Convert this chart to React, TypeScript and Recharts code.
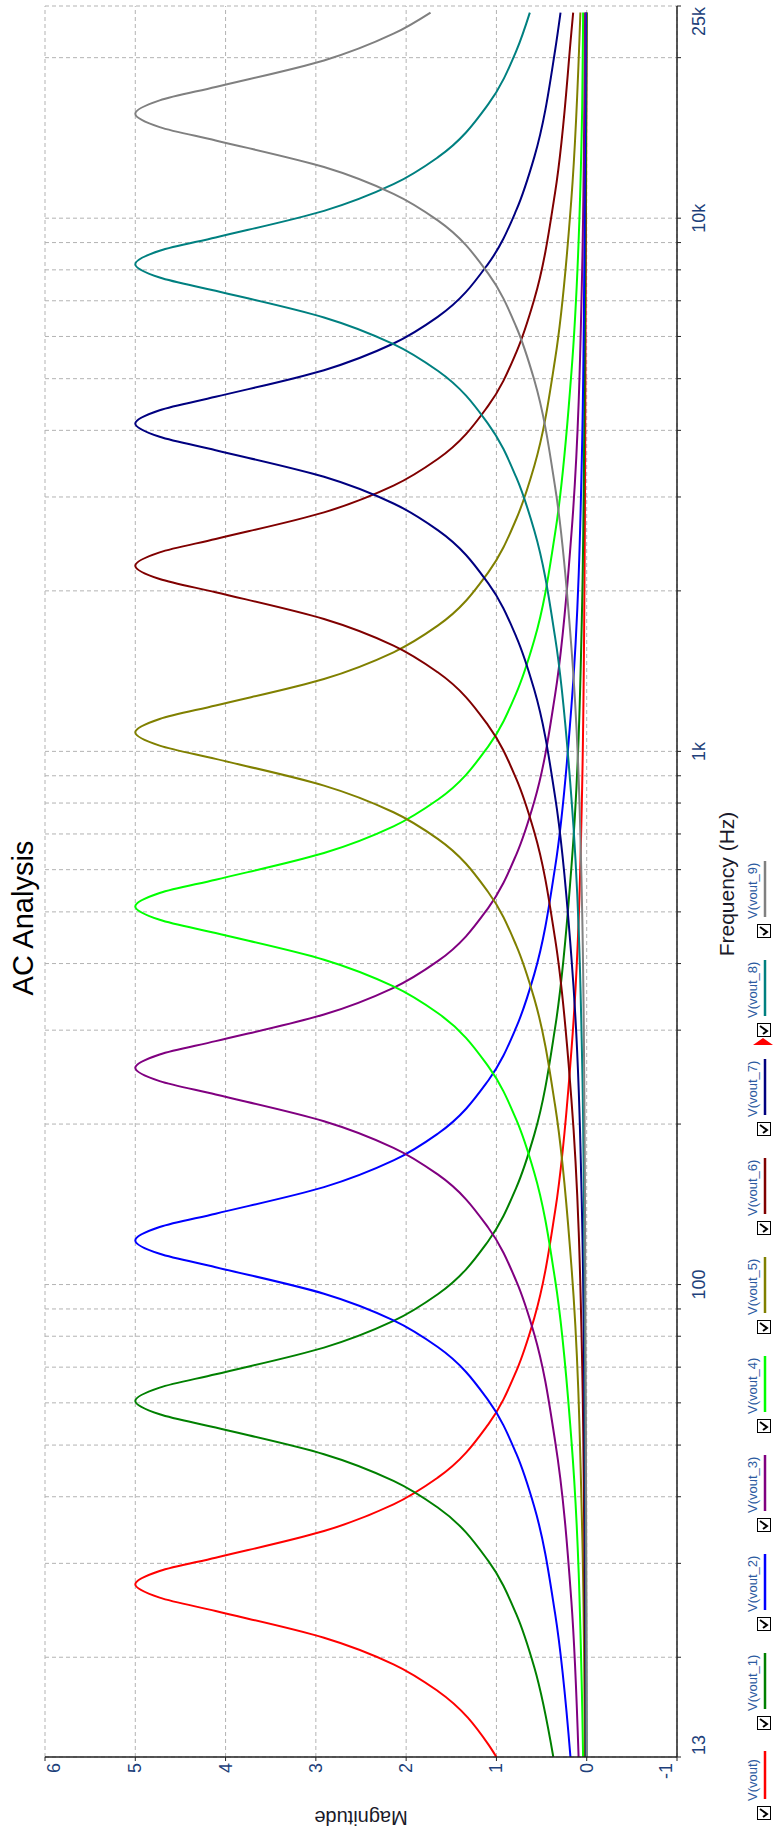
import React from 'react';
import { LineChart, Line, XAxis, YAxis, CartesianGrid } from 'recharts';

const freqVout = [13, 13.73, 17.29, 19.4, 21.76, 24.42, 25.87, 27.4, 29.02, 30.74, 34.49, 38.7, 43.43, 54.67, 68.83, 86.65, 137.3, 274, 866, 2740, 24300];
const magVout = [1.0, 1.09, 1.65, 2.14, 2.91, 4.11, 4.73, 5.0, 4.73, 4.11, 2.91, 2.14, 1.65, 1.09, 0.78, 0.58, 0.35, 0.17, 0.05, 0.02, 0.0];

const freqVout1 = [13, 19.13, 24.09, 30.32, 38.18, 42.83, 48.06, 53.92, 57.12, 60.5, 64.09, 67.88, 76.16, 85.46, 95.89, 120.7, 152, 191.3, 303.2, 605, 1913, 6050, 24300];
const magVout1 = [0.37, 0.58, 0.78, 1.09, 1.65, 2.14, 2.91, 4.11, 4.73, 5.0, 4.73, 4.11, 2.91, 2.14, 1.65, 1.09, 0.78, 0.58, 0.35, 0.17, 0.05, 0.02, 0.0];

const freqVout2 = [13, 24.14, 38.26, 48.17, 60.65, 76.35, 85.66, 96.11, 107.8, 114.2, 121, 128.2, 135.8, 152.3, 170.9, 191.8, 241.4, 303.9, 382.6, 606.4, 1210, 3826, 12100, 24300];
const magVout2 = [0.18, 0.35, 0.58, 0.78, 1.09, 1.65, 2.14, 2.91, 4.11, 4.73, 5.0, 4.73, 4.11, 2.91, 2.14, 1.65, 1.09, 0.78, 0.58, 0.35, 0.17, 0.05, 0.02, 0.01];

const freqVout3 = [13, 25.5, 50.87, 80.63, 101.5, 127.8, 160.9, 180.5, 202.5, 227.3, 240.7, 255, 270.1, 286.1, 321, 360.2, 404.1, 508.8, 640.5, 806.4, 1278, 2550, 8063, 24300];
const magVout3 = [0.09, 0.17, 0.35, 0.58, 0.78, 1.09, 1.65, 2.14, 2.91, 4.11, 4.73, 5.0, 4.73, 4.11, 2.91, 2.14, 1.65, 1.09, 0.78, 0.58, 0.35, 0.17, 0.05, 0.02];

const freqVout4 = [13, 16.19, 51.2, 102.1, 161.9, 203.8, 256.6, 323.1, 362.4, 406.7, 456.3, 483.4, 512, 542.4, 574.5, 644.6, 723.2, 811.5, 1022, 1286, 1619, 2566, 5120, 16190, 24300];
const magVout4 = [0.04, 0.05, 0.17, 0.35, 0.58, 0.78, 1.09, 1.65, 2.14, 2.91, 4.11, 4.73, 5.0, 4.73, 4.11, 2.91, 2.14, 1.65, 1.09, 0.78, 0.58, 0.35, 0.17, 0.05, 0.04];

const freqVout5 = [13, 34.34, 108.6, 216.7, 343.4, 432.3, 544.3, 685.3, 768.8, 862.6, 968, 1025, 1086, 1150, 1219, 1367, 1534, 1721, 2167, 2728, 3434, 5443, 10860, 24300];
const magVout5 = [0.02, 0.05, 0.17, 0.35, 0.58, 0.78, 1.09, 1.65, 2.14, 2.91, 4.11, 4.73, 5.0, 4.73, 4.11, 2.91, 2.14, 1.65, 1.09, 0.78, 0.58, 0.35, 0.17, 0.07];

const freqVout6 = [13, 22.3, 70.51, 223, 444.9, 705.2, 887.8, 1118, 1407, 1579, 1771, 1988, 2105, 2230, 2362, 2502, 2807, 3150, 3534, 4450, 5602, 7052, 11180, 22300, 24300];
const magVout6 = [0.01, 0.02, 0.05, 0.17, 0.35, 0.58, 0.78, 1.09, 1.65, 2.14, 2.91, 4.11, 4.73, 5.0, 4.73, 4.11, 2.91, 2.14, 1.65, 1.09, 0.78, 0.58, 0.35, 0.17, 0.15];

const freqVout7 = [13, 41.2, 130.3, 412, 821.9, 1303, 1640, 2065, 2600, 2917, 3273, 3672, 3890, 4120, 4364, 4623, 5187, 5820, 6530, 8221, 10350, 13030, 20650, 24300];
const magVout7 = [0.01, 0.02, 0.05, 0.17, 0.35, 0.58, 0.78, 1.09, 1.65, 2.14, 2.91, 4.11, 4.73, 5.0, 4.73, 4.11, 2.91, 2.14, 1.65, 1.09, 0.78, 0.58, 0.35, 0.29];

const freqVout8 = [13, 82, 259.3, 820, 1636, 2593, 3264, 4110, 5174, 5805, 6513, 7309, 7742, 8200, 8686, 9200, 10320, 11580, 13000, 16360, 20600, 24300];
const magVout8 = [0.0, 0.02, 0.05, 0.17, 0.35, 0.58, 0.78, 1.09, 1.65, 2.14, 2.91, 4.11, 4.73, 5.0, 4.73, 4.11, 2.91, 2.14, 1.65, 1.09, 0.78, 0.63];

const freqVout9 = [13, 157, 496.4, 1570, 3132, 4965, 6250, 7869, 9907, 11110, 12470, 13990, 14820, 15700, 16630, 17620, 19760, 22180, 24300];
const magVout9 = [0.0, 0.02, 0.05, 0.17, 0.35, 0.58, 0.78, 1.09, 1.65, 2.14, 2.91, 4.11, 4.73, 5.0, 4.73, 4.11, 2.91, 2.14, 1.73];

const seriesNames = ['V(vout)', 'V(vout_1)', 'V(vout_2)', 'V(vout_3)', 'V(vout_4)', 'V(vout_5)', 'V(vout_6)', 'V(vout_7)', 'V(vout_8)', 'V(vout_9)'];
const seriesColors = ['#FF0000', '#008000', '#0000FF', '#800080', '#00FF00', '#808000', '#800000', '#000080', '#008080', '#808080'];

// axis ticks
const freqTicks = [13, 20, 30, 40, 50, 60, 70, 80, 90, 100, 200, 300, 400, 500, 600, 700, 800, 900, 1000, 2000, 3000, 4000, 5000, 6000, 7000, 8000, 9000, 10000, 20000, 25000];
const freqLabels: Record<number, string> = { 13: '13', 100: '100', 1000: '1k', 10000: '10k', 25000: '25k' };
const magTicks = [-1, 0, 1, 2, 3, 4, 5, 6];

const zip = (f: number[], m: number[]) => f.map((v, i) => ({ f: v, m: m[i] }));

const seriesData = [
    zip(freqVout, magVout),
    zip(freqVout1, magVout1),
    zip(freqVout2, magVout2),
    zip(freqVout3, magVout3),
    zip(freqVout4, magVout4),
    zip(freqVout5, magVout5),
    zip(freqVout6, magVout6),
    zip(freqVout7, magVout7),
    zip(freqVout8, magVout8),
    zip(freqVout9, magVout9),
];

const FONT = '"Liberation Sans", Arial, sans-serif';
const TICK_COLOR = '#1d3f7a';
const W = 1836;
const H = 777;

const FreqTick = (props: any) => {
    const { x, y, payload } = props;
    const label = freqLabels[payload.value];
    if (!label) return <g />;
    let anchor: 'start' | 'middle' | 'end' = 'middle';
    let tx = x;
    if (payload.value === 13) { anchor = 'start'; tx = x + 2; }
    if (payload.value === 25000) { anchor = 'end'; tx = x - 1; }
    return (
        <text x={tx} y={y + 22} textAnchor={anchor} fontSize={18} fill={TICK_COLOR} fontFamily={FONT}>
            {label}
        </text>
    );
};

const MagTick = (props: any) => {
    const { x, y, payload } = props;
    const v = payload.value;
    const dy = v === 6 ? 15 : v === -1 ? -5 : 6;
    return (
        <text x={x} y={y + dy} textAnchor="end" fontSize={18} fill={TICK_COLOR} fontFamily={FONT}>
            {v}
        </text>
    );
};

const LegendRow = () => (
    <g>
        {seriesNames.map((name, i) => {
            const bx = i === 0 ? 16 : 106 + (i - 1) * 99;
            const len = i === 0 ? 48 : 56;
            return (
                <g key={name}>
                    {i === 8 && (
                        <polygon points={`${bx - 8},753 ${bx - 8},773 ${bx - 1},763`} fill="#FF0000" />
                    )}
                    <rect x={bx + 0.5} y={757.5} width={13} height={13} fill="#fff" stroke="#000" strokeWidth={1} />
                    <polyline
                        points={`${bx + 3},${763} ${bx + 6},${767} ${bx + 11},${760}`}
                        fill="none"
                        stroke="#000"
                        strokeWidth={2}
                    />
                    <text x={bx + 19} y={757} fontSize={13} fill="#2c5aa0" fontFamily={FONT}>{name}</text>
                    <line x1={bx + 21} x2={bx + 21 + len} y1={765} y2={765} stroke={seriesColors[i]} strokeWidth={2.5} />
                </g>
            );
        })}
    </g>
);

const AcChart = () => (
    <div style={{ position: 'relative', width: W, height: H, background: '#fff' }}>
        <LineChart width={W} height={H} margin={{ top: 45, right: 6, bottom: 0, left: 0 }}>
            <CartesianGrid stroke="#b3b3b3" strokeDasharray="4 3" />
            <XAxis
                type="number"
                dataKey="f"
                scale="log"
                domain={[13, 25000]}
                allowDataOverflow
                ticks={freqTicks}
                interval={0}
                height={100}
                tickSize={4}
                tickMargin={2}
                axisLine={{ stroke: '#222', strokeWidth: 1.5 }}
                tickLine={{ stroke: '#222' }}
                tick={<FreqTick />}
            />
            <YAxis
                type="number"
                dataKey="m"
                domain={[-1, 6]}
                allowDataOverflow
                ticks={magTicks}
                interval={0}
                width={79}
                tickSize={4}
                tickMargin={2}
                axisLine={{ stroke: '#222', strokeWidth: 1.5 }}
                tickLine={{ stroke: '#222' }}
                tick={<MagTick />}
            />
            {seriesData.map((d, i) => (
                <Line
                    key={seriesNames[i]}
                    data={d}
                    dataKey="m"
                    name={seriesNames[i]}
                    type="monotone"
                    stroke={seriesColors[i]}
                    strokeWidth={2}
                    dot={false}
                    activeDot={false}
                    isAnimationActive={false}
                />
            ))}
        </LineChart>
        <svg width={W} height={H} style={{ position: 'absolute', left: 0, top: 0, pointerEvents: 'none' }}>
            <text x={918} y={33} textAnchor="middle" fontSize={29} fill="#000" fontFamily={FONT}>AC Analysis</text>
            <text x={952} y={734} textAnchor="middle" fontSize={21} fill="#1a1a2a" fontFamily={FONT}>Frequency (Hz)</text>
            <text transform="translate(25,361) rotate(-90)" textAnchor="middle" fontSize={20} fill="#1a1a2a" fontFamily={FONT}>Magnitude</text>
            <LegendRow />
        </svg>
    </div>
);

export default function App() {
    // the plot is drawn landscape and turned a quarter turn counter-clockwise onto the portrait page
    return (
        <div style={{ position: 'absolute', left: 0, top: 0, width: H, height: W, overflow: 'hidden', background: '#fff' }}>
            <div style={{ position: 'absolute', left: 0, top: 0, width: W, height: H, transformOrigin: '0 0', transform: `translateY(${W}px) rotate(-90deg)` }}>
                <AcChart />
            </div>
        </div>
    );
}
